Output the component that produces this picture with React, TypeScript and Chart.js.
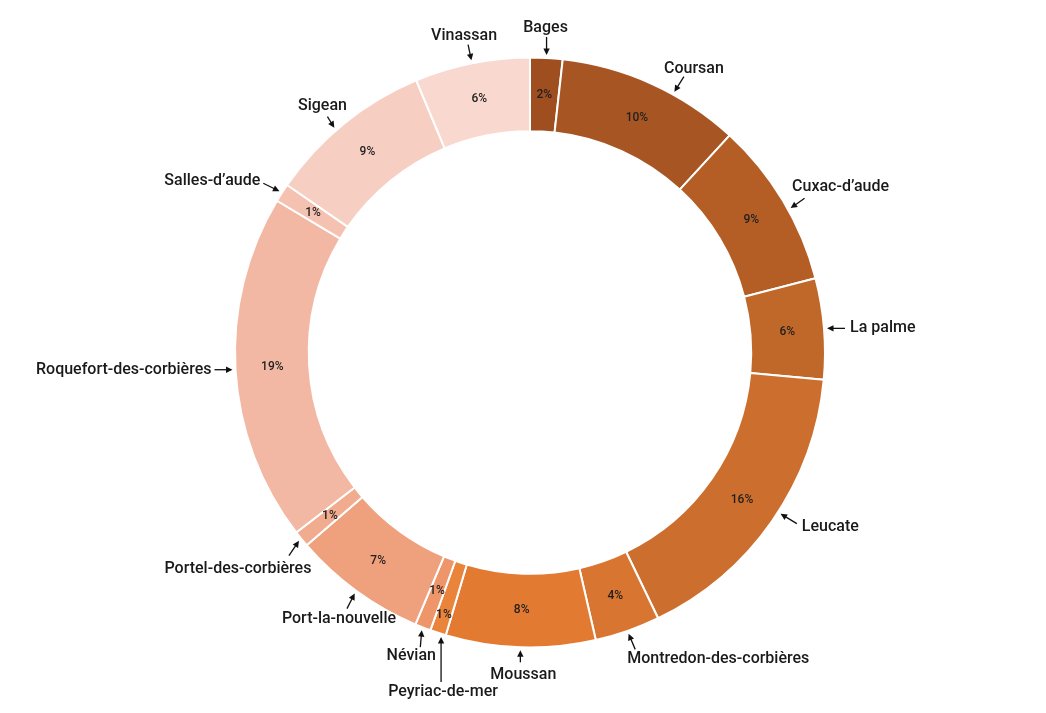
import React, { useEffect, useRef } from "react";
import { Chart, registerables } from "chart.js";

Chart.register(...registerables);

const communes = [
  "Bages",
  "Coursan",
  "Cuxac-d’aude",
  "La palme",
  "Leucate",
  "Montredon-des-corbières",
  "Moussan",
  "Peyriac-de-mer",
  "Névian",
  "Port-la-nouvelle",
  "Portel-des-corbières",
  "Roquefort-des-corbières",
  "Salles-d’aude",
  "Sigean",
  "Vinassan",
];

const shares = [1.77, 10.06, 9.12, 5.52, 16.38, 3.57, 8.19, 0.87, 0.87, 7.32, 0.89, 19.04, 1.01, 9.09, 6.3];

const sliceColors = [
  "#9E4E1F",
  "#A75623",
  "#B45E25",
  "#C0672A",
  "#CC6E2D",
  "#D87530",
  "#E27B31",
  "#E9843A",
  "#EE9569",
  "#EFA07D",
  "#F1AB8E",
  "#F3B8A3",
  "#F5C2B1",
  "#F7CEC2",
  "#F9D9CF",
];

// callout layout: tip angle shift (deg), arrow direction (deg clockwise from up), arrow length,
// text offset from arrow tail, alignment
const callouts = [
  { shift: 0, dir: 0, len: 18, dx: -1, dy: -9, align: "center" },
  { shift: 4.5, dir: 32, len: 18, dx: 10, dy: -8, align: "center" },
  { shift: 2, dir: 55, len: 17, dx: 36, dy: -11, align: "center" },
  { shift: 0, dir: 90, len: 18, dx: 5, dy: 0, align: "left" },
  { shift: -2, dir: 121, len: 19, dx: 5, dy: 3, align: "left" },
  { shift: 0, dir: 157, len: 17, dx: -8, dy: 10, align: "left" },
  { shift: 0, dir: 180, len: 12, dx: 3, dy: 13, align: "center" },
  { shift: -0.8, dir: 180, len: 45, dx: 2, dy: 10, align: "center" },
  { shift: 0, dir: 185, len: 17, dx: -9, dy: 9, align: "center" },
  { shift: 0, dir: 207, len: 17, dx: -8, dy: 10, align: "center" },
  { shift: 0, dir: 214, len: 18, dx: -51, dy: 13, align: "center" },
  { shift: 0, dir: 270, len: 18, dx: -3, dy: 0, align: "right" },
  { shift: 0, dir: 296, len: 18, dx: -3, dy: -2, align: "right" },
  { shift: -2, dir: 328, len: 13, dx: -5, dy: -11, align: "center" },
  { shift: 0, dir: 348, len: 16, dx: -4, dy: -9, align: "center" },
];

const pctRadialShift = [0, 0, 0, 0, 0, 0, 0, 18, -2, 0, 0, 0, 0, 0, 0];

const FONT = "Roboto, 'Open Sans', sans-serif";

const calloutPlugin = {
  id: "callouts",
  afterDatasetsDraw(chart: any) {
    const ctx = chart.ctx as CanvasRenderingContext2D;
    const meta = chart.getDatasetMeta(0);
    const data = chart.data.datasets[0].data as number[];
    const total = data.reduce((a, b) => a + b, 0);
    ctx.save();
    meta.data.forEach((arc: any, i: number) => {
      const p = arc.getProps(["x", "y", "startAngle", "endAngle", "innerRadius", "outerRadius"], true);
      const mid = (p.startAngle + p.endAngle) / 2;
      // percentage inside
      const rm = (p.innerRadius + p.outerRadius) / 2 + (pctRadialShift[i] || 0);
      const px = p.x + Math.cos(mid) * rm;
      const py = p.y + Math.sin(mid) * rm;
      ctx.fillStyle = "#1f1f1f";
      ctx.font = `500 12px ${FONT}`;
      ctx.textAlign = "center";
      ctx.textBaseline = "middle";
      ctx.fillText(Math.round((data[i] / total) * 100) + "%", px, py);

      // callout arrow
      const c = callouts[i];
      const a = mid + (c.shift * Math.PI) / 180;
      const rt = p.outerRadius + 3;
      const tx = p.x + Math.cos(a) * rt;
      const ty = p.y + Math.sin(a) * rt;
      const d = (c.dir * Math.PI) / 180;
      const ux = Math.sin(d);
      const uy = -Math.cos(d);
      const sx = tx + ux * c.len;
      const sy = ty + uy * c.len;
      ctx.strokeStyle = "#111";
      ctx.fillStyle = "#111";
      ctx.lineWidth = 1.3;
      ctx.beginPath();
      ctx.moveTo(sx, sy);
      ctx.lineTo(tx + ux * 5, ty + uy * 5);
      ctx.stroke();
      // arrow head
      const hl = 6.5;
      const hw = 3.2;
      const bx = tx + ux * hl;
      const by = ty + uy * hl;
      ctx.beginPath();
      ctx.moveTo(tx, ty);
      ctx.lineTo(bx - uy * hw, by + ux * hw);
      ctx.lineTo(bx + uy * hw, by - ux * hw);
      ctx.closePath();
      ctx.fill();

      // label text
      ctx.fillStyle = "#1a1a1a";
      ctx.font = `500 16px ${FONT}`;
      ctx.textAlign = c.align as CanvasTextAlign;
      ctx.textBaseline = "middle";
      ctx.fillText(chart.data.labels[i], sx + c.dx, sy + c.dy);
    });
    ctx.restore();
  },
};

export default function App() {
  const canvasRef = useRef<HTMLCanvasElement | null>(null);

  useEffect(() => {
    if (!canvasRef.current) return;
    const chart = new Chart(canvasRef.current, {
      type: "doughnut",
      data: {
        labels: communes,
        datasets: [
          {
            data: shares,
            backgroundColor: sliceColors,
            borderColor: "#ffffff",
            borderWidth: 2,
          },
        ],
      },
      options: {
        animation: false,
        responsive: true,
        maintainAspectRatio: false,
        cutout: "75%",
        layout: {
          padding: { top: 54, bottom: 62, left: 234, right: 220 },
        },
        plugins: {
          legend: { display: false },
          tooltip: { enabled: false },
        },
      },
      plugins: [calloutPlugin],
    });
    return () => chart.destroy();
  }, []);

  return (
    <div style={{ position: "fixed", left: 0, top: 0, width: 1046, height: 713, background: "#fff" }}>
      <canvas ref={canvasRef} />
    </div>
  );
}
